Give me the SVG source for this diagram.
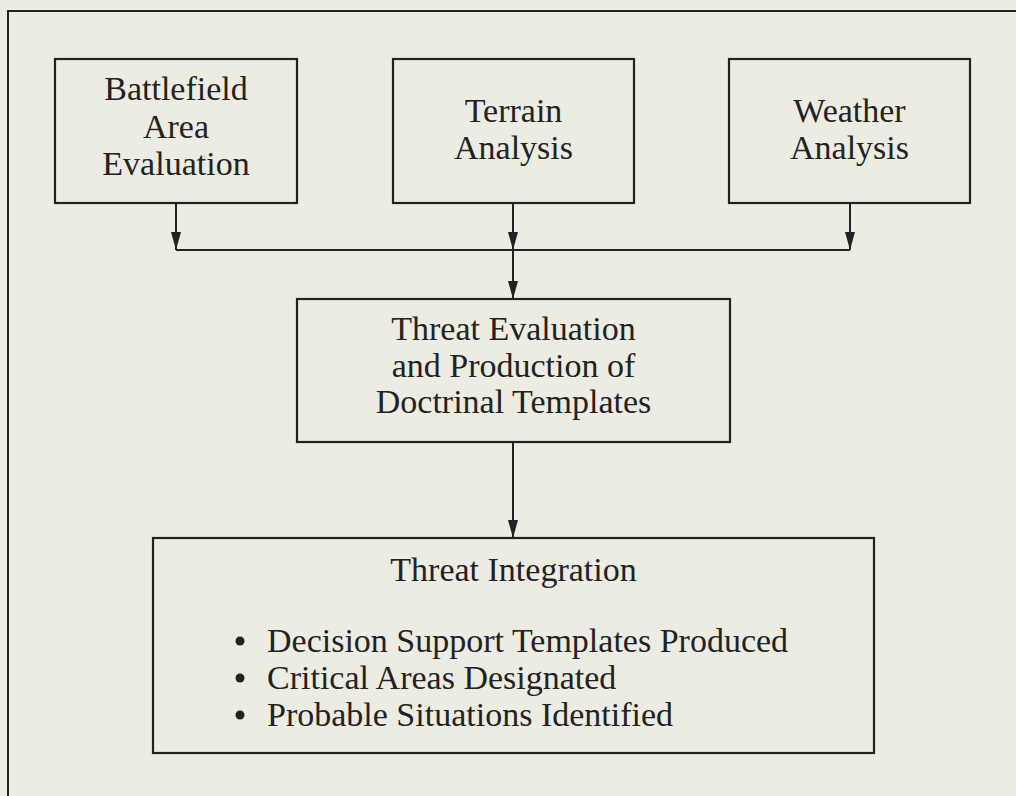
<svg xmlns="http://www.w3.org/2000/svg" width="1016" height="796" viewBox="0 0 1016 796">
<style>
.bg{fill:#edece3}
.box{fill:none;stroke:#222;stroke-width:2.2}
.ln{fill:none;stroke:#222;stroke-width:2}
.t{font-family:"Liberation Serif","Times New Roman",serif;font-size:34px;fill:#222;text-anchor:middle}
.tl{font-family:"Liberation Serif","Times New Roman",serif;font-size:34px;fill:#222}
</style>
<defs>
<marker id="ah" markerWidth="10" markerHeight="18" refX="10" refY="9" orient="auto" markerUnits="userSpaceOnUse">
<path d="M0,4 L10,9 L0,14 Z" fill="#222"/>
</marker>
<marker id="ahv" viewBox="0 0 18 10" markerWidth="18" markerHeight="10" refX="18" refY="5" orient="auto" markerUnits="userSpaceOnUse">
<path d="M0,0 L18,5 L0,10 Z" fill="#222"/>
</marker>
</defs>
<rect class="bg" x="0" y="0" width="1016" height="796"/>
<g id="frame">
<path class="ln" d="M8,796 V11 H1016"/>
</g>
<g id="battlefield">
<rect class="box" x="55" y="59" width="242" height="144"/>
<text class="t" x="176" y="100">Battlefield</text>
<text class="t" x="176" y="138">Area</text>
<text class="t" x="176" y="175">Evaluation</text>
</g>
<g id="terrain">
<rect class="box" x="393" y="59" width="241" height="144"/>
<text class="t" x="513.5" y="122">Terrain</text>
<text class="t" x="513.5" y="159">Analysis</text>
</g>
<g id="weather">
<rect class="box" x="729" y="59" width="241" height="144"/>
<text class="t" x="849.5" y="122">Weather</text>
<text class="t" x="849.5" y="159">Analysis</text>
</g>
<g id="threat-evaluation">
<rect class="box" x="297" y="299" width="433" height="143"/>
<text class="t" x="513.5" y="340">Threat Evaluation</text>
<text class="t" x="513.5" y="377">and Production of</text>
<text class="t" x="513.5" y="413">Doctrinal Templates</text>
</g>
<g id="threat-integration">
<rect class="box" x="153" y="538" width="721" height="215"/>
<text class="t" x="513.5" y="581">Threat Integration</text>
<circle cx="240" cy="641" r="4.5" fill="#222"/>
<circle cx="240" cy="678" r="4.5" fill="#222"/>
<circle cx="240" cy="715" r="4.5" fill="#222"/>
<text class="tl" x="267" y="652">Decision Support Templates Produced</text>
<text class="tl" x="267" y="689">Critical Areas Designated</text>
<text class="tl" x="267" y="726">Probable Situations Identified</text>
</g>
<g id="connectors">
<line class="ln" x1="176" y1="203" x2="176" y2="250" marker-end="url(#ahv)"/>
<line class="ln" x1="513" y1="203" x2="513" y2="250" marker-end="url(#ahv)"/>
<line class="ln" x1="850" y1="203" x2="850" y2="250" marker-end="url(#ahv)"/>
<line class="ln" x1="176" y1="250" x2="850" y2="250"/>
<line class="ln" x1="513" y1="250" x2="513" y2="299" marker-end="url(#ahv)"/>
<line class="ln" x1="513" y1="442" x2="513" y2="538" marker-end="url(#ahv)"/>
</g>
</svg>
